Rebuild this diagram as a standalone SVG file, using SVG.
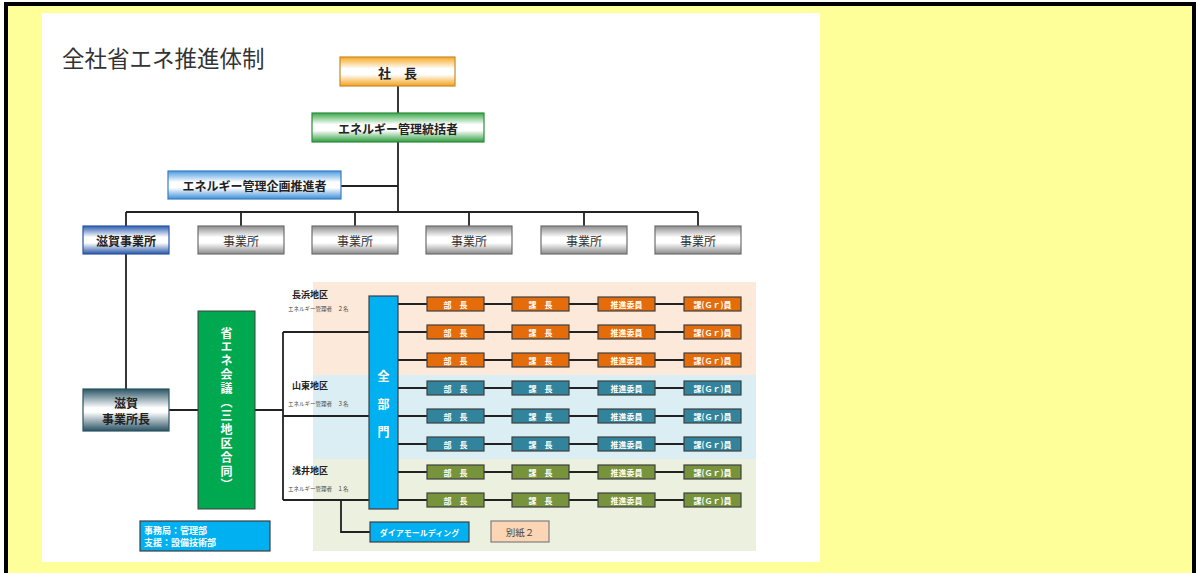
<svg xmlns="http://www.w3.org/2000/svg" width="1196" height="573" viewBox="0 0 1196 573">
<style>
text{font-family:"Noto Sans CJK JP","Noto Sans",sans-serif}
.ln{stroke:#222;stroke-width:1.8;fill:none}
.bx{stroke:#3f3f3f;stroke-width:1.2}
.wt{fill:#fff;font-weight:bold;font-size:8px;text-anchor:middle;dominant-baseline:central}
.or{fill:#E46C0A}.tl{fill:#31849B}.ol{fill:#77933C}
.gr{fill:url(#gGray);stroke:#6e6e6e;stroke-width:1.2}
.gt{font-size:12px;fill:#333;text-anchor:middle;dominant-baseline:central}
.bt{font-weight:bold;fill:#222;text-anchor:middle;dominant-baseline:central}
.rl{font-size:9px;font-weight:bold;fill:#222}
.rs{font-size:5.5px;fill:#444}
.vt{fill:#fff;font-weight:bold;font-size:12px;text-anchor:middle;dominant-baseline:central}
</style>
<defs>
<linearGradient id="gOr" x1="0" y1="0" x2="0" y2="1"><stop offset="0" stop-color="#F7A823"/><stop offset="0.4" stop-color="#fff"/><stop offset="0.6" stop-color="#fff"/><stop offset="1" stop-color="#F5A11A"/></linearGradient>
<linearGradient id="gGr" x1="0" y1="0" x2="0" y2="1"><stop offset="0" stop-color="#3BAA4A"/><stop offset="0.4" stop-color="#fff"/><stop offset="0.6" stop-color="#fff"/><stop offset="1" stop-color="#2E9E40"/></linearGradient>
<linearGradient id="gBl" x1="0" y1="0" x2="0" y2="1"><stop offset="0" stop-color="#4A9BE0"/><stop offset="0.4" stop-color="#fff"/><stop offset="0.6" stop-color="#fff"/><stop offset="1" stop-color="#3F8FD8"/></linearGradient>
<linearGradient id="gBl2" x1="0" y1="0" x2="0" y2="1"><stop offset="0" stop-color="#2F5FB0"/><stop offset="0.4" stop-color="#fff"/><stop offset="0.6" stop-color="#fff"/><stop offset="1" stop-color="#2A56A6"/></linearGradient>
<linearGradient id="gGray" x1="0" y1="0" x2="0" y2="1"><stop offset="0" stop-color="#8c8c8c"/><stop offset="0.4" stop-color="#fff"/><stop offset="0.6" stop-color="#fff"/><stop offset="1" stop-color="#8a8a8a"/></linearGradient>
<linearGradient id="gTe" x1="0" y1="0" x2="0" y2="1"><stop offset="0" stop-color="#2C5566"/><stop offset="0.45" stop-color="#fff"/><stop offset="0.55" stop-color="#fff"/><stop offset="1" stop-color="#2A5263"/></linearGradient>
</defs>

<!-- frame -->
<rect x="0" y="0" width="1196" height="573" fill="#fff"/>
<rect x="6" y="4" width="1188" height="575" fill="#FFFF99" stroke="#000" stroke-width="4"/>
<rect x="42" y="13" width="778" height="549" fill="#fff"/>

<text x="62" y="67" font-size="22.5" fill="#333">全社省エネ推進体制</text>

<!-- region backgrounds -->
<rect x="313" y="282" width="443" height="93" fill="#FDE9D9"/>
<rect x="313" y="375" width="443" height="84" fill="#DAEEF3"/>
<rect x="313" y="459" width="443" height="92" fill="#EBF1DE"/>

<g id="connectors">
<path class="ln" d="M398 86V113M398 142V212M341 186H398M126 212H698M126 212V226M241 212V226M355 212V226M469 212V226M584 212V226M698 212V226"/>
<path class="ln" d="M126 254V389M169 410H198M255 410H283M283 332V500M283 332H370M283 416H370M283 500H370M341 500V532H370"/>
<path class="ln" d="M398 304H427M484 304H512M569 304H598M655 304H684
M398 332H427M484 332H512M569 332H598M655 332H684
M398 360H427M484 360H512M569 360H598M655 360H684
M398 388H427M484 388H512M569 388H598M655 388H684
M398 416H427M484 416H512M569 416H598M655 416H684
M398 444H427M484 444H512M569 444H598M655 444H684
M398 472H427M484 472H512M569 472H598M655 472H684
M398 500H427M484 500H512M569 500H598M655 500H684"/>
</g>

<g id="shacho"><rect x="340" y="57" width="115" height="29" fill="url(#gOr)" stroke="#C98A2B" stroke-width="1.2"/><text class="bt" x="397.5" y="72" font-size="13">社　長</text></g>
<g id="tokatsu"><rect x="312" y="113" width="172" height="29" fill="url(#gGr)" stroke="#2f8a3c" stroke-width="1.2"/><text class="bt" x="398" y="128" font-size="12">エネルギー管理統括者</text></g>
<g id="kikaku"><rect x="168" y="171" width="173" height="28" fill="url(#gBl)" stroke="#3a7fc0" stroke-width="1.2"/><text class="bt" x="254.5" y="185" font-size="12">エネルギー管理企画推進者</text></g>

<g id="shiga"><rect x="83" y="226" width="86" height="28" fill="url(#gBl2)" stroke="#2A56A6" stroke-width="1.2"/><text class="bt" x="126" y="240" font-size="12">滋賀事業所</text></g>
<g id="jig1"><rect class="gr" x="198" y="226" width="86" height="28"/><text class="gt" x="241" y="240">事業所</text></g>
<g id="jig2"><rect class="gr" x="312" y="226" width="86" height="28"/><text class="gt" x="355" y="240">事業所</text></g>
<g id="jig3"><rect class="gr" x="426" y="226" width="86" height="28"/><text class="gt" x="469" y="240">事業所</text></g>
<g id="jig4"><rect class="gr" x="541" y="226" width="86" height="28"/><text class="gt" x="584" y="240">事業所</text></g>
<g id="jig5"><rect class="gr" x="655" y="226" width="86" height="28"/><text class="gt" x="698" y="240">事業所</text></g>

<g id="shocho"><rect x="83" y="389" width="86" height="42" fill="url(#gTe)" stroke="#2A5263" stroke-width="1.2"/><text class="bt" x="126" y="402" font-size="12">滋賀</text><text class="bt" x="126" y="418" font-size="12">事業所長</text></g>

<g id="kaigi"><rect x="198" y="311" width="57" height="198" fill="#00A94F" stroke="#3f3f3f" stroke-width="1"/>
<text x="226.5" y="327" writing-mode="vertical-rl" font-size="12" font-weight="bold" fill="#fff" letter-spacing="1.8">省エネ会議（三地区合同）</text></g>

<g id="jimu"><rect x="140" y="521" width="130" height="30" fill="#00B0F0" stroke="#3f3f3f" stroke-width="1.2"/><text x="144" y="534" font-size="9" fill="#fff" font-weight="bold">事務局：管理部</text><text x="144" y="546" font-size="9" fill="#fff" font-weight="bold">支援：設備技術部</text></g>

<g id="nagahama"><text class="rl" x="292" y="298">長浜地区</text><text class="rs" x="288" y="311">エネルギー管理者　２名</text></g>
<g id="santo"><text class="rl" x="292" y="389">山東地区</text><text class="rs" x="288" y="406">エネルギー管理者　３名</text></g>
<g id="azai"><text class="rl" x="292" y="474">浅井地区</text><text class="rs" x="288" y="491">エネルギー管理者　１名</text></g>

<g id="zenbumon"><rect x="369" y="296" width="29" height="213" fill="#00B0F0" stroke="#3f3f3f" stroke-width="1.2"/><text class="vt" x="383.5" y="375" font-size="14">全</text><text class="vt" x="383.5" y="403" font-size="14">部</text><text class="vt" x="383.5" y="431" font-size="14">門</text></g>

<g id="rows">
<g id="r1"><rect class="bx or" x="427" y="297" width="57" height="14"/><rect class="bx or" x="512" y="297" width="57" height="14"/><rect class="bx or" x="598" y="297" width="57" height="14"/><rect class="bx or" x="684" y="297" width="57" height="14"/><text class="wt" x="455.5" y="304">部　長</text><text class="wt" x="540.5" y="304">課　長</text><text class="wt" x="626.5" y="304">推進委員</text><text class="wt" x="712.5" y="304">課(Ｇｒ)員</text></g>
<g id="r2"><rect class="bx or" x="427" y="325" width="57" height="14"/><rect class="bx or" x="512" y="325" width="57" height="14"/><rect class="bx or" x="598" y="325" width="57" height="14"/><rect class="bx or" x="684" y="325" width="57" height="14"/><text class="wt" x="455.5" y="332">部　長</text><text class="wt" x="540.5" y="332">課　長</text><text class="wt" x="626.5" y="332">推進委員</text><text class="wt" x="712.5" y="332">課(Ｇｒ)員</text></g>
<g id="r3"><rect class="bx or" x="427" y="353" width="57" height="14"/><rect class="bx or" x="512" y="353" width="57" height="14"/><rect class="bx or" x="598" y="353" width="57" height="14"/><rect class="bx or" x="684" y="353" width="57" height="14"/><text class="wt" x="455.5" y="360">部　長</text><text class="wt" x="540.5" y="360">課　長</text><text class="wt" x="626.5" y="360">推進委員</text><text class="wt" x="712.5" y="360">課(Ｇｒ)員</text></g>
<g id="r4"><rect class="bx tl" x="427" y="381" width="57" height="14"/><rect class="bx tl" x="512" y="381" width="57" height="14"/><rect class="bx tl" x="598" y="381" width="57" height="14"/><rect class="bx tl" x="684" y="381" width="57" height="14"/><text class="wt" x="455.5" y="388">部　長</text><text class="wt" x="540.5" y="388">課　長</text><text class="wt" x="626.5" y="388">推進委員</text><text class="wt" x="712.5" y="388">課(Ｇｒ)員</text></g>
<g id="r5"><rect class="bx tl" x="427" y="409" width="57" height="14"/><rect class="bx tl" x="512" y="409" width="57" height="14"/><rect class="bx tl" x="598" y="409" width="57" height="14"/><rect class="bx tl" x="684" y="409" width="57" height="14"/><text class="wt" x="455.5" y="416">部　長</text><text class="wt" x="540.5" y="416">課　長</text><text class="wt" x="626.5" y="416">推進委員</text><text class="wt" x="712.5" y="416">課(Ｇｒ)員</text></g>
<g id="r6"><rect class="bx tl" x="427" y="437" width="57" height="14"/><rect class="bx tl" x="512" y="437" width="57" height="14"/><rect class="bx tl" x="598" y="437" width="57" height="14"/><rect class="bx tl" x="684" y="437" width="57" height="14"/><text class="wt" x="455.5" y="444">部　長</text><text class="wt" x="540.5" y="444">課　長</text><text class="wt" x="626.5" y="444">推進委員</text><text class="wt" x="712.5" y="444">課(Ｇｒ)員</text></g>
<g id="r7"><rect class="bx ol" x="427" y="465" width="57" height="14"/><rect class="bx ol" x="512" y="465" width="57" height="14"/><rect class="bx ol" x="598" y="465" width="57" height="14"/><rect class="bx ol" x="684" y="465" width="57" height="14"/><text class="wt" x="455.5" y="472">部　長</text><text class="wt" x="540.5" y="472">課　長</text><text class="wt" x="626.5" y="472">推進委員</text><text class="wt" x="712.5" y="472">課(Ｇｒ)員</text></g>
<g id="r8"><rect class="bx ol" x="427" y="493" width="57" height="14"/><rect class="bx ol" x="512" y="493" width="57" height="14"/><rect class="bx ol" x="598" y="493" width="57" height="14"/><rect class="bx ol" x="684" y="493" width="57" height="14"/><text class="wt" x="455.5" y="500">部　長</text><text class="wt" x="540.5" y="500">課　長</text><text class="wt" x="626.5" y="500">推進委員</text><text class="wt" x="712.5" y="500">課(Ｇｒ)員</text></g>
</g>

<g id="diamold"><rect x="370" y="522" width="99" height="20" fill="#00B0F0" stroke="#3f3f3f" stroke-width="1.2"/><text class="wt" x="419.5" y="532" font-size="9">ダイアモールディング</text></g>
<g id="besshi"><rect x="491" y="521" width="58" height="21" fill="#FCD5B4" stroke="#7f7f7f" stroke-width="1.2"/><text x="520" y="532" font-size="9.5" fill="#444" text-anchor="middle" dominant-baseline="central">別紙２</text></g>
</svg>
